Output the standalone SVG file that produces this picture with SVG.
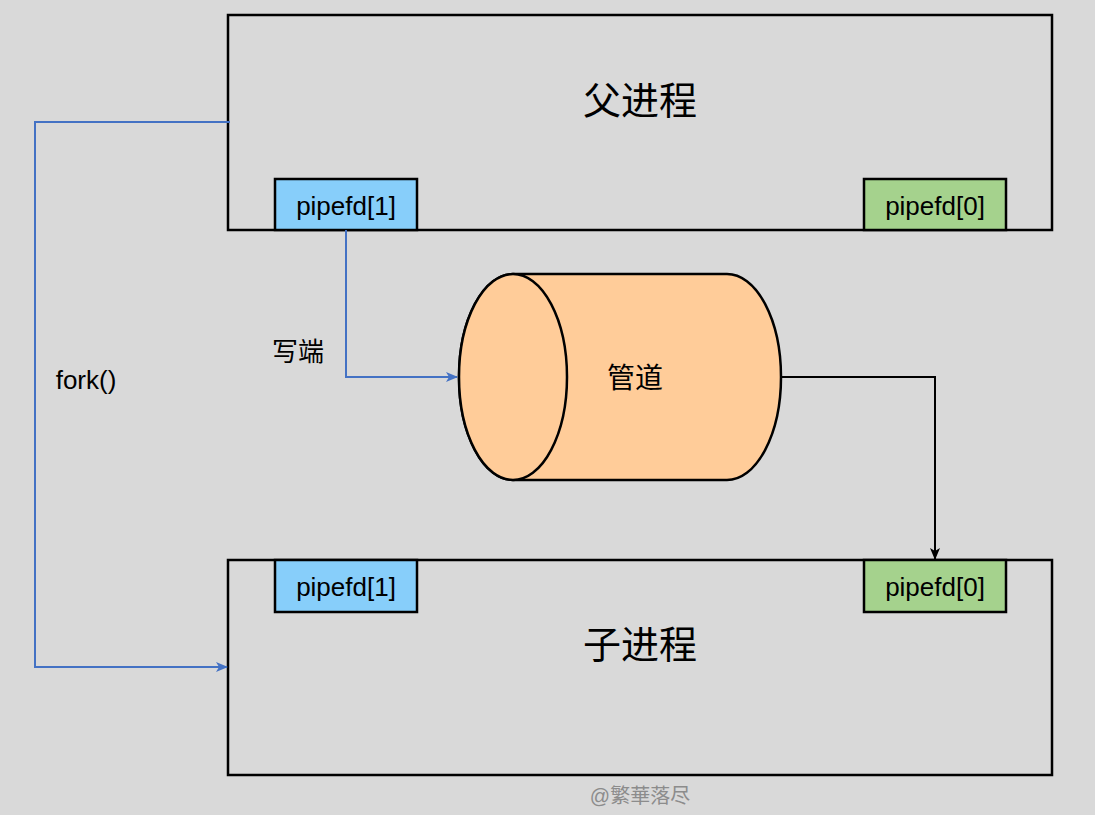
<svg xmlns="http://www.w3.org/2000/svg" width="1095" height="815" viewBox="0 0 1095 815">
<style>
.box{fill:none;stroke:#000;stroke-width:2.5}
.blue{fill:#87cefa;stroke:#000;stroke-width:2.5}
.green{fill:#a5d28d;stroke:#000;stroke-width:2.5}
.t{font-family:"Liberation Sans","Noto Sans CJK SC",sans-serif;fill:#000}
.c{fill:none;stroke-width:2}
</style>
<defs>
<marker id="ab" markerWidth="12" markerHeight="10" refX="11" refY="5" orient="auto" markerUnits="userSpaceOnUse"><path d="M0,0 L12,5 L0,10 L3,5 Z" fill="#4472c4"/></marker>
<marker id="ak" markerWidth="12" markerHeight="10" refX="11" refY="5" orient="auto" markerUnits="userSpaceOnUse"><path d="M0,0 L12,5 L0,10 L3,5 Z" fill="#000"/></marker>
</defs>
<rect width="1095" height="815" fill="#d9d9d9"/>
<g id="parent">
<rect class="box" x="228" y="15" width="824" height="215"/>
<text class="t" x="640" y="114" font-size="38" text-anchor="middle">父进程</text>
</g>
<g id="p1">
<rect class="blue" x="275" y="179" width="142" height="51"/>
<text class="t" x="346" y="215" font-size="26" text-anchor="middle">pipefd[1]</text>
</g>
<g id="p0">
<rect class="green" x="864" y="179" width="142" height="51"/>
<text class="t" x="935" y="215" font-size="26" text-anchor="middle">pipefd[0]</text>
</g>
<g id="child">
<rect class="box" x="228" y="560" width="824" height="215"/>
<text class="t" x="640" y="658" font-size="38" text-anchor="middle">子进程</text>
</g>
<g id="c1">
<rect class="blue" x="275" y="560" width="142" height="52"/>
<text class="t" x="346" y="596" font-size="26" text-anchor="middle">pipefd[1]</text>
</g>
<g id="c0">
<rect class="green" x="864" y="560" width="142" height="52"/>
<text class="t" x="935" y="596" font-size="26" text-anchor="middle">pipefd[0]</text>
</g>
<g id="pipe">
<path d="M513,274 L727,274 A54,103 0 0 1 727,480 L513,480 A54,103 0 0 1 513,274 Z" fill="#ffcc99" stroke="#000" stroke-width="2.5"/>
<ellipse cx="513" cy="377" rx="54" ry="103" fill="#ffcc99" stroke="#000" stroke-width="2.5"/>
<text class="t" x="635" y="388" font-size="28" text-anchor="middle">管道</text>
</g>
<g id="connectors">
<path class="c" stroke="#4472c4" d="M346,230 V377 H457" marker-end="url(#ab)"/>
<path class="c" stroke="#4472c4" d="M230,122 H35 V667 H227" marker-end="url(#ab)"/>
<path class="c" stroke="#000" d="M781,377 H935 V559" marker-end="url(#ak)"/>
</g>
<text class="t" x="298" y="361" font-size="26" text-anchor="middle">写端</text>
<text class="t" x="86" y="389" font-size="26" text-anchor="middle">fork()</text>
<text x="640" y="803" font-size="20" text-anchor="middle" fill="#8c8c8c" font-family="Liberation Sans,Noto Sans CJK SC,sans-serif">@繁華落尽</text>
</svg>
